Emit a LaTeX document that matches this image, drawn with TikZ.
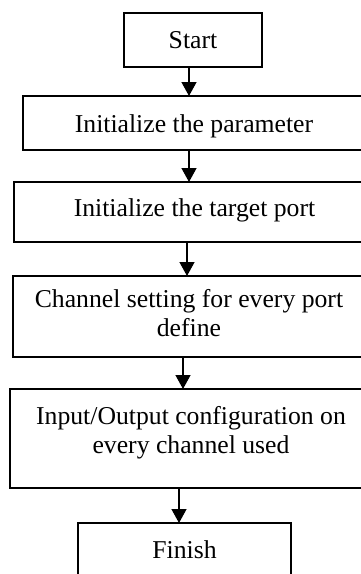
\documentclass[tikz,border=0pt]{standalone}
\usepackage{fontspec}
\setmainfont{Liberation Serif}
\usetikzlibrary{arrows.meta}
\begin{document}
\begin{tikzpicture}[x=1pt,y=-1pt,
  boxnode/.style={draw=black, line width=1.6pt, rectangle, inner sep=0pt, outer sep=0pt},
  txt/.style={inner sep=0pt, outer sep=0pt, anchor=base, align=center,
    font=\fontsize{25.7}{28.5}\selectfont},
  arr/.style={line width=1.4pt, -{Triangle[width=15pt,length=14pt]}}]
\useasboundingbox (0,0) rectangle (361,574);
\clip (0,0) rectangle (361,574);
\fill[white] (0,0) rectangle (361,574);
% boxes
\node[boxnode, minimum width=138pt, minimum height=54pt] (b1) at (193,40) {};
\node[boxnode, minimum width=342pt, minimum height=54pt] (b2) at (194,123) {};
\node[boxnode, minimum width=361pt, minimum height=60pt] (b3) at (194.5,212) {};
\node[boxnode, minimum width=352pt, minimum height=81pt] (b4) at (189,316.5) {};
\node[boxnode, minimum width=362pt, minimum height=99pt] (b5) at (191,438.5) {};
\node[boxnode, minimum width=213pt, minimum height=67pt] (b6) at (184.5,556.5) {};
% texts
\node[txt] (t1) at (193,48) {Start};
\node[txt] (t2) at (194,132) {Initialize the parameter};
\node[txt] (t3) at (194.5,216) {Initialize the target port};
\node[txt] (t4) at (189,336) {Channel setting for every port\\define};
\node[txt] (t5) at (191,453) {Input/Output configuration on\\every channel used};
\node[txt] (t6) at (184.5,558) {Finish};
% arrow columns
\coordinate (a1) at (189,0);
\coordinate (a2) at (189,0);
\coordinate (a3) at (187,0);
\coordinate (a4) at (183,0);
\coordinate (a5) at (179,0);
\draw[arr] (b1.south -| a1) -- (b2.north -| a1);
\draw[arr] (b2.south -| a2) -- (b3.north -| a2);
\draw[arr] (b3.south -| a3) -- (b4.north -| a3);
\draw[arr] (b4.south -| a4) -- (b5.north -| a4);
\draw[arr] (b5.south -| a5) -- (b6.north -| a5);
\end{tikzpicture}
\end{document}
